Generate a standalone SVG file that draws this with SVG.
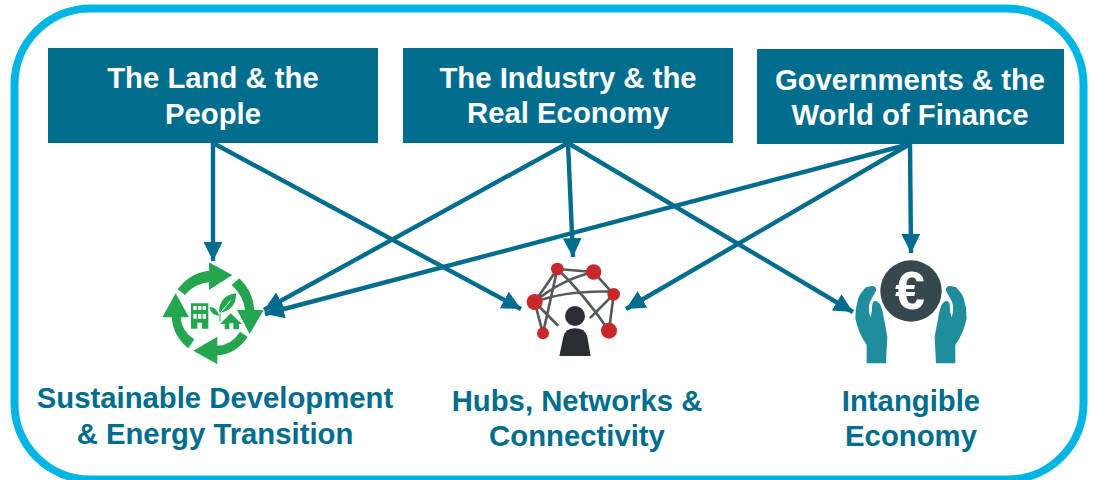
<svg xmlns="http://www.w3.org/2000/svg" width="1096" height="480" viewBox="0 0 1096 480">
<defs>
<style>
.box{fill:#006c8e}
.bt{font:bold 29.3px "Liberation Sans",Arial,sans-serif;fill:#fff;text-anchor:middle}
.lt{font:bold 29.3px "Liberation Sans",Arial,sans-serif;fill:#006c8e;text-anchor:middle}
.c{stroke:#006c8e;stroke-width:4.400;fill:none;marker-end:url(#a)}
.g{fill:#24a650}
.n{stroke:#555a5c;stroke-width:8;fill:none;stroke-linecap:round}
.r{fill:#c8282a}
.d{fill:#2b2f33}
.h{fill:#1f8d9c}
</style>
<marker id="a" markerUnits="userSpaceOnUse" markerWidth="19" markerHeight="19" refX="16" refY="8" orient="auto" viewBox="0 0 16 16"><path d="M0 0L16 8L0 16z" fill="#006c8e"/></marker>
</defs>
<rect x="14.500" y="8.500" width="1069" height="471" rx="76" fill="#fff" stroke="#00b5e4" stroke-width="8"/>
<g id="node-land"><rect class="box" x="48" y="48" width="330" height="95"/><text class="bt" x="213" y="88">The Land &amp; the</text><text class="bt" x="213" y="124">People</text></g>
<g id="node-industry"><rect class="box" x="403" y="48" width="330" height="95"/><text class="bt" x="568" y="88">The Industry &amp; the</text><text class="bt" x="568" y="123">Real Economy</text></g>
<g id="node-gov"><rect class="box" x="757" y="49" width="307" height="95"/><text class="bt" x="910" y="90">Governments &amp; the</text><text class="bt" x="910" y="125">World of Finance</text></g>
<g id="connectors">
<path class="c" d="M213 143L213 261"/><path class="c" d="M213 143L521 309"/>
<path class="c" d="M568 143L264 310"/><path class="c" d="M568 143L573 257"/><path class="c" d="M568 143L853 312"/>
<path class="c" d="M910 144L265 314"/><path class="c" d="M910 144L626 309"/><path class="c" d="M910 144L911 253"/>
</g>
<g id="node-sustainable">
<g transform="translate(140 230) scale(.33333)">
<path class="g" d="M113 178Q150 128 207 122L207 97L277 135L207 180L207 157Q165 160 135 195z"/>
<path class="g" d="M298 145Q340 185 343 240L371 240L329 312L291 240L315 240Q312 200 275 165z"/>
<path class="g" d="M323 320Q290 372 232 376L232 403L160 362L232 320L232 347Q275 345 300 305z"/>
<path class="g" d="M145 355Q100 320 95 262L67 262L107 190L147 262L122 262Q125 305 163 328z"/>
<path class="g" fill-rule="evenodd" d="M153 220H205V296H153zM160 228V240H170V228zM174 228V240H184V228zM188 228V240H198V228zM160 252V266H170V252zM174 252V266H184V252zM188 252V266H198V252zM172 278V296H186V278z"/>
<path class="g" d="M288 190Q250 195 240 225Q235 240 240 250Q275 240 285 215Q288 205 288 190z"/>
<path class="g" d="M208 232Q228 228 238 257Q215 258 208 232z"/>
<path d="M240 250L272 212" stroke="#fff" stroke-width="3" fill="none"/>
<path class="g" d="M240 250V275" stroke="#24a650" stroke-width="3"/>
<path class="g" fill-rule="evenodd" d="M272 250L306 282H297V298H254V282H240zM268 280V298H280V280z"/>
</g>
<text class="lt" x="215" y="408">Sustainable Development</text><text class="lt" x="215" y="444">&amp; Energy Transition</text>
</g>
<g id="node-hubs">
<g transform="translate(500 230) scale(.33333)">
<path class="n" d="M172 117L281 126L341 193L327 302M172 117L104 216L129 310M172 117L129 310M172 117Q250 190 327 302M104 216Q200 180 341 185M281 126Q180 150 104 216L172 285M341 193L272 262"/>
<circle class="r" cx="172" cy="117" r="19"/><circle class="r" cx="281" cy="126" r="23"/><circle class="r" cx="341" cy="193" r="19"/><circle class="r" cx="327" cy="302" r="24"/><circle class="r" cx="104" cy="216" r="24"/><circle class="r" cx="129" cy="310" r="18"/>
<circle class="d" cx="225" cy="258" r="30"/><path class="d" d="M178 378L190 320Q197 295 225 295Q255 295 262 320L272 378z"/>
</g>
<text class="lt" x="577" y="411">Hubs, Networks &amp;</text><text class="lt" x="577" y="446">Connectivity</text>
</g>
<g id="node-intangible">
<circle cx="911" cy="291" r="30.700" fill="#36474d"/>
<text x="910" y="309" font-family="Liberation Sans,sans-serif" font-weight="bold" font-size="54" fill="#fff" text-anchor="middle">€</text>
<g transform="translate(830 230) scale(.33333)">
<path id="hand" class="h" d="M110 400L168 400L172 320L158 245Q150 212 135 212Q125 215 126 240L122 262Q112 240 120 215L138 182Q140 168 125 168L108 172Q90 190 85 205Q75 235 76 265Q85 310 110 345z"/>
<path class="h" d="M376 400L318 400L314 320L328 245Q336 212 351 212Q361 215 360 240L364 262Q374 240 366 215L348 182Q346 168 361 168L378 172Q396 190 401 205Q411 235 410 265Q401 310 376 345z"/>
</g>
<text class="lt" x="911" y="411">Intangible</text><text class="lt" x="911" y="446">Economy</text>
</g>
</svg>
